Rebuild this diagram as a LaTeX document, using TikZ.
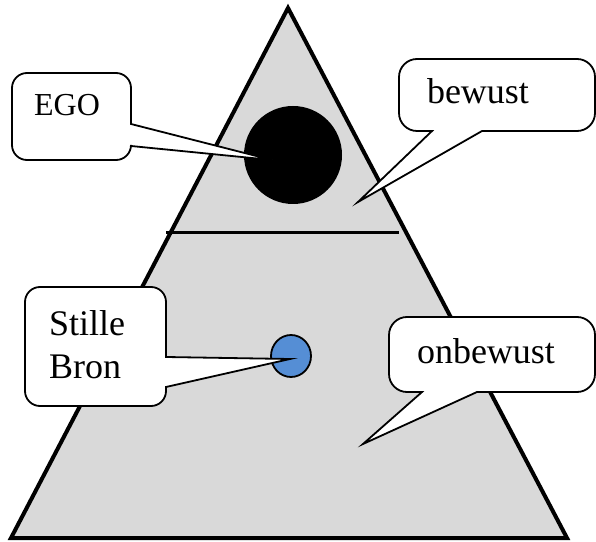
\documentclass[tikz,border=0pt]{standalone}
\usepackage{fontspec}
\setmainfont{Liberation Serif}
\definecolor{pyrgray}{HTML}{D9D9D9}
\definecolor{bronblue}{HTML}{558ED5}
\tikzset{
  pyramid/.style={draw=black, line width=4pt, fill=pyrgray, line join=miter},
  bubble/.style={draw=black, line width=1.8pt, fill=white, line join=miter},
  bubbletext/.style={inner sep=0pt, anchor=base, font=\fontsize{36}{43}\selectfont},
}
\begin{document}
\begin{tikzpicture}[x=1pt, y=1pt]
\useasboundingbox (0,0) rectangle (596,541);
% pyramid
\coordinate (apex) at (288,533);
\coordinate (bl) at (11,3);
\coordinate (br) at (567,3);
\draw[pyramid] (apex) -- (bl) -- (br) -- cycle;
\coordinate (divL) at (166,308);
\coordinate (divR) at (399,308);
\draw[line width=3pt] (divL) -- (divR);
% ego disc and source
\fill[black] (293,386) circle[radius=49];
\draw[line width=1.8pt, fill=bronblue] (291,185) ellipse[x radius=20, y radius=21];
% EGO callout (pointer on right side)
\draw[bubble] (27,381) -- (116,381) arc[start angle=-90, end angle=0, radius=15]
  -- (131,395) -- (272,381) -- (131,417) -- (131,453)
  arc[start angle=0, end angle=90, radius=15] -- (27,468)
  arc[start angle=90, end angle=180, radius=15] -- (12,396)
  arc[start angle=180, end angle=270, radius=15] -- cycle;
\node[bubbletext, font=\fontsize{32}{38}\selectfont] (ego) at (67,425) {EGO};
% Stille Bron callout (pointer on right side)
\draw[bubble] (40,135) -- (151,135) arc[start angle=-90, end angle=0, radius=15]
  -- (166,154) -- (290,182) -- (166,184) -- (166,239)
  arc[start angle=0, end angle=90, radius=15] -- (40,254)
  arc[start angle=90, end angle=180, radius=15] -- (25,150)
  arc[start angle=180, end angle=270, radius=15] -- cycle;
\node[bubbletext, anchor=base west] (stille) at (49,206) {Stille};
\node[bubbletext, anchor=base west] (bron) at (49,163) {Bron};
% bewust callout (pointer on bottom)
\draw[bubble] (417,410) -- (432,410) -- (358,339) -- (482,410) -- (577,410)
  arc[start angle=-90, end angle=0, radius=18] -- (595,464)
  arc[start angle=0, end angle=90, radius=18] -- (417,482)
  arc[start angle=90, end angle=180, radius=18] -- (399,428)
  arc[start angle=180, end angle=270, radius=18] -- cycle;
\node[bubbletext] (bewust) at (478,437) {bewust};
% onbewust callout (pointer on bottom)
\draw[bubble] (407,149) -- (422,149) -- (363,97) -- (477,149) -- (577,149)
  arc[start angle=-90, end angle=0, radius=18] -- (595,206)
  arc[start angle=0, end angle=90, radius=18] -- (407,224)
  arc[start angle=90, end angle=180, radius=18] -- (389,167)
  arc[start angle=180, end angle=270, radius=18] -- cycle;
\node[bubbletext] (onbewust) at (486,178) {onbewust};
\end{tikzpicture}
\end{document}
